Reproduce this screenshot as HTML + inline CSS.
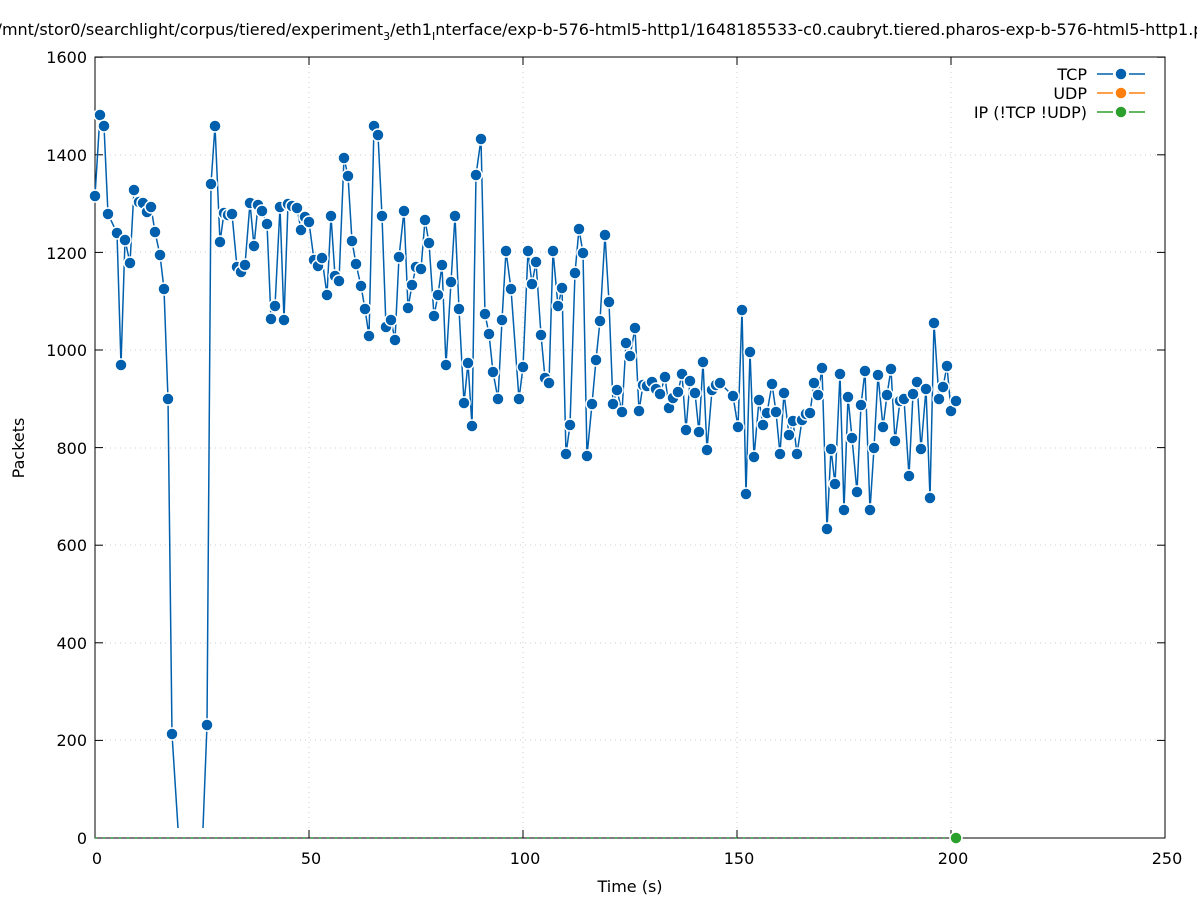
<!DOCTYPE html>
<html><head><meta charset="utf-8"><style>
html,body{margin:0;padding:0;background:#fff;}
svg{display:block;font-family:"DejaVu Sans","Liberation Sans",sans-serif;}
</style></head><body>
<svg id="s" width="1197" height="900" viewBox="0 0 1197 900" xmlns="http://www.w3.org/2000/svg">
<rect width="1197" height="900" fill="#fff"/>
<g stroke="#ccc" stroke-width="1" stroke-dasharray="1,4">
<line x1="95" y1="740" x2="1165" y2="740"/><line x1="95" y1="643" x2="1165" y2="643"/>
<line x1="95" y1="545" x2="1165" y2="545"/><line x1="95" y1="448" x2="1165" y2="448"/>
<line x1="95" y1="350" x2="1165" y2="350"/><line x1="95" y1="252" x2="1165" y2="252"/>
<line x1="95" y1="155" x2="1165" y2="155"/>
<line x1="309" y1="57" x2="309" y2="838"/><line x1="523" y1="57" x2="523" y2="838"/>
<line x1="737" y1="57" x2="737" y2="838"/><line x1="951" y1="57" x2="951" y2="838"/>
</g>
<rect x="95" y="57" width="1070" height="781" fill="none" stroke="#000" stroke-width="1"/>
<g id="ticks" stroke="#000" stroke-width="1"></g>
<g font-size="16" fill="#000" text-anchor="end">
<text x="87" y="844">0</text><text x="87" y="746">200</text><text x="87" y="649">400</text>
<text x="87" y="551">600</text><text x="87" y="454">800</text><text x="87" y="356">1000</text>
<text x="87" y="259">1200</text><text x="87" y="161">1400</text><text x="87" y="63">1600</text>
</g>
<g font-size="16" fill="#000" text-anchor="middle">
<text x="97" y="864">0</text><text x="311" y="864">50</text><text x="525" y="864">100</text>
<text x="739" y="864">150</text><text x="953" y="864">200</text><text x="1167" y="864">250</text>
<text x="630" y="892">Time (s)</text>
<text x="600" y="35">/mnt/stor0/searchlight/corpus/tiered/experiment<tspan font-size="11" dy="5">3</tspan><tspan dy="-5">/eth1</tspan><tspan font-size="11" dy="5">I</tspan><tspan dy="-5">nterface/exp-b-576-html5-http1/1648185533-c0.caubryt.tiered.pharos-exp-b-576-html5-http1.p</tspan></text>
</g>
<text x="24" y="448" font-size="16" text-anchor="middle" transform="rotate(-90 24 448)">Packets</text>
<g font-size="16" text-anchor="end">
<text x="1087" y="80">TCP</text><text x="1087" y="99">UDP</text><text x="1087" y="118">IP (!TCP  !UDP)</text>
</g>
<g stroke-width="1.5">
<line x1="1097" y1="74" x2="1113" y2="74" stroke="#0060ad"/><line x1="1129" y1="74" x2="1145" y2="74" stroke="#0060ad"/>
<line x1="1097" y1="93" x2="1113" y2="93" stroke="#ff7f0e"/><line x1="1129" y1="93" x2="1145" y2="93" stroke="#ff7f0e"/>
<line x1="1097" y1="112" x2="1113" y2="112" stroke="#2ca02c"/><line x1="1129" y1="112" x2="1145" y2="112" stroke="#2ca02c"/>
</g>
<circle cx="1121" cy="74" r="6" fill="#0060ad" stroke="#fff" stroke-width="1.5"/>
<circle cx="1121" cy="93" r="6" fill="#ff7f0e" stroke="#fff" stroke-width="1.5"/>
<circle cx="1121" cy="112" r="6" fill="#2ca02c" stroke="#fff" stroke-width="1.5"/>
<line x1="95" y1="838" x2="956" y2="838" stroke="#2ca02c" stroke-width="1.5" stroke-dasharray="2,6"/>
<g id="series"></g>
<circle cx="956" cy="838" r="6" fill="#2ca02c" stroke="#fff" stroke-width="1.5"/>
</svg>
<script>
var A=[[95,196],[100,115],[104,126],[108,214],[117,233],[121,365],[125,240],[130,263],[134,190],[139,202],[143,203],[147,212],[151,207],[155,232],[160,255],[164,289],[168,399],[172,734]];
var B=[[207,725],[211,184],[215,126],[220,242],[224,213],[228,215],[232,214],[237,267],[241,272],[245,265],[250,203],[254,246],[258,205],[262,211],[267,224],[271,319],[275,306],[280,207],[284,320],[288,204],[292,206],[297,208],[301,230],[305,217],[309,222],[314,260],[318,266],[322,258],[327,295],[331,216],[335,276],[339,281],[344,158],[348,176],[352,241],[356,264],[361,286],[365,309],[369,336],[374,126],[378,135],[382,216],[386,327],[391,320],[395,340],[399,257],[404,211],[408,308],[412,285],[416,267],[421,269],[425,220],[429,243],[434,316],[438,295],[442,265],[446,365],[451,282],[455,216],[459,309],[464,403],[468,363],[472,426],[476,175],[481,139],[485,314],[489,334],[493,372],[498,399],[502,320],[506,251],[511,289],[519,399],[523,367],[528,251],[532,284],[536,262],[541,335],[545,378],[549,383],[553,251],[558,306],[562,288],[566,454],[570,425],[575,273],[579,229],[583,253],[587,456],[592,404],[596,360],[600,321],[605,235],[609,302],[613,404],[617,390],[622,412],[626,343],[630,356],[635,328],[639,411],[643,385],[647,386],[652,382],[656,389],[660,394],[665,377],[669,408],[673,398],[678,392],[682,374],[686,430],[690,381],[695,393],[699,432],[703,362],[707,450],[712,390],[716,385],[720,383],[733,396],[738,427],[742,310],[746,494],[750,352],[754,457],[759,400],[763,425],[767,413],[772,384],[776,412],[780,454],[784,393],[789,435],[793,421],[797,454],[802,420],[806,414],[810,413],[814,383],[818,395],[822,368],[827,529],[831,449],[835,484],[840,374],[844,510],[848,397],[852,438],[857,492],[861,405],[865,371],[870,510],[874,448],[878,375],[883,427],[887,395],[891,369],[895,441],[900,401],[904,399],[909,476],[913,394],[917,382],[921,449],[926,389],[930,498],[934,323],[939,399],[943,387],[947,366],[951,411],[956,401]];
var ns="http://www.w3.org/2000/svg",g=document.getElementById("series");
function pl(p){var e=document.createElementNS(ns,"polyline");e.setAttribute("points",p.map(function(a){return a.join(",")}).join(" "));e.setAttribute("fill","none");e.setAttribute("stroke","#0060ad");e.setAttribute("stroke-width","1.5");g.appendChild(e);}
pl(A.concat([[178,828]]));pl([[203,828]].concat(B));
A.concat(B).forEach(function(a){var c=document.createElementNS(ns,"circle");c.setAttribute("cx",a[0]);c.setAttribute("cy",a[1]);c.setAttribute("r","6");c.setAttribute("fill","#0060ad");c.setAttribute("stroke","#fff");c.setAttribute("stroke-width","1.5");g.appendChild(c);});
var t=document.getElementById("ticks");
function ln(x1,y1,x2,y2){var e=document.createElementNS(ns,"line");e.setAttribute("x1",x1);e.setAttribute("y1",y1);e.setAttribute("x2",x2);e.setAttribute("y2",y2);t.appendChild(e);}
for(var i=0;i<=8;i++){var y=838-i*97.6;ln(95,y,103,y);ln(1157,y,1165,y);}
for(var j=0;j<=5;j++){var x=95+j*214;ln(x,838,x,830);ln(x,57,x,65);}
</script>
</body></html>
